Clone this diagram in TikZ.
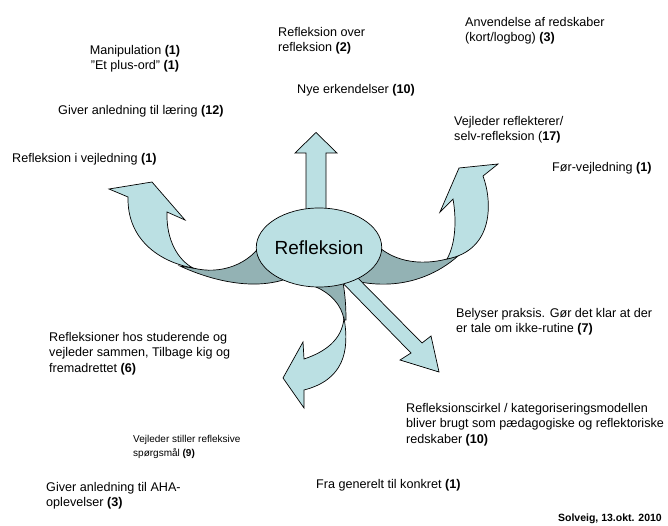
\documentclass[tikz,border=0pt]{standalone}
\usepackage{fontspec}
\setmainfont{Liberation Sans}
\usetikzlibrary{shapes.geometric}
\definecolor{lightteal}{HTML}{BBE0E3}
\definecolor{darkteal}{HTML}{93B2B4}
\begin{document}
\begin{tikzpicture}[x=1pt,y=-1pt,
  lbl/.style={inner sep=0pt, anchor=north west, align=left, font=\fontsize{12.6}{15.5}\selectfont},
  lightpart/.style={fill=lightteal, draw=black, line width=0.7pt, line join=miter},
  darkpart/.style={fill=darkteal, draw=black, line width=0.7pt}]
\useasboundingbox (0,0) rectangle (668,526);

% dark twisted undersides
\path[darkpart] (180,266) .. controls (210,280) and (250,290) .. (283,280) -- (300,262) -- (264,240)
  .. controls (250,265) and (220,275) .. (193,268) -- cycle;
\path[darkpart] (372,240) .. controls (390,262) and (420,266) .. (447,259) -- (458,256)
  .. controls (440,272) and (405,292) .. (355,281) -- (340,262) -- cycle;
\path[darkpart] (314,278) -- (316,287) .. controls (330,293) and (342,305) .. (344,320) -- (346,320)
  .. controls (346,305) and (345,295) .. (343,282) -- cycle;

% left curved arrow
\path[lightpart] (193,268) .. controls (160,262) and (127,240) .. (128,197) -- (109,189) -- (152,182)
  -- (185,220) -- (167,212) .. controls (166,240) and (178,260) .. (193,268) -- cycle;
% right curved arrow
\path[lightpart] (447,259) .. controls (455,245) and (457,222) .. (453,199) -- (440,212) -- (459,168)
  -- (498,164) -- (483,176) .. controls (492,200) and (495,250) .. (447,259) -- cycle;
% bottom curved arrow
\path[lightpart] (344,318) .. controls (350,352) and (343,380) .. (304,390) -- (304,408) -- (283,378)
  -- (303,342) -- (304,359) .. controls (325,352) and (342,340) .. (344,318) -- cycle;
% diagonal arrow
\path[lightpart] (330,270) -- (411,353) -- (400,360) -- (439,372) -- (431,336) -- (422,343) -- (342,262) -- cycle;
% up arrow
\path[lightpart] (306,215) -- (306,153) -- (295,153) -- (316,132.5) -- (337,153) -- (326,153) -- (326,215) -- cycle;

\node[ellipse, draw=black, line width=0.7pt, fill=lightteal, minimum width=119pt, minimum height=79pt,
  inner sep=0pt, font=\fontsize{19}{22}\selectfont] (refl) at (319,247.5) {Refleksion};

\node[lbl, anchor=north, align=center] (manip) at (135,45) {Manipulation \textbf{(1)}\\"Et plus-ord" \textbf{(1)}};
\node[lbl] (giver) at (58,105) {Giver anledning til læring \textbf{(12)}};
\node[lbl] (refvej) at (12,153) {Refleksion i vejledning \textbf{(1)}};
\node[lbl] (refover) at (278,27) {Refleksion over\\refleksion \textbf{(2)}};
\node[lbl] (nye) at (297,84) {Nye erkendelser \textbf{(10)}};
\node[lbl] (anv) at (465,17) {Anvendelse af redskaber\\(kort/logbog) \textbf{(3)}};
\node[lbl] (vejref) at (454,116) {Vejleder reflekterer/\\selv-refleksion (\textbf{17)}};
\node[lbl] (forvej) at (552,162) {Før-vejledning \textbf{(1)}};
\node[lbl] (belyser) at (456,308) {Belyser praksis. Gør det klar at der\\er tale om ikke-rutine \textbf{(7)}};
\node[lbl] (cirkel) at (406,403) {Refleksionscirkel / kategoriseringsmodellen\\bliver brugt som pædagogiske og reflektoriske\\redskaber \textbf{(10)}};
\node[lbl] (fra) at (316,479) {Fra generelt til konkret \textbf{(1)}};
\node[lbl] (studer) at (49,332) {Refleksioner hos studerende og\\vejleder sammen, Tilbage kig og\\fremadrettet \textbf{(6)}};
\node[lbl, font=\fontsize{10}{14}\selectfont] (stiller) at (133,435) {Vejleder stiller refleksive\\spørgsmål \textbf{(9)}};
\node[lbl] (aha) at (46,482) {Giver anledning til AHA-\\oplevelser \textbf{(3)}};
\node[lbl, anchor=north east, font=\fontsize{10.5}{12}\selectfont\bfseries] (solveig) at (662,514) {Solveig, 13.okt. 2010};
\end{tikzpicture}
\end{document}
